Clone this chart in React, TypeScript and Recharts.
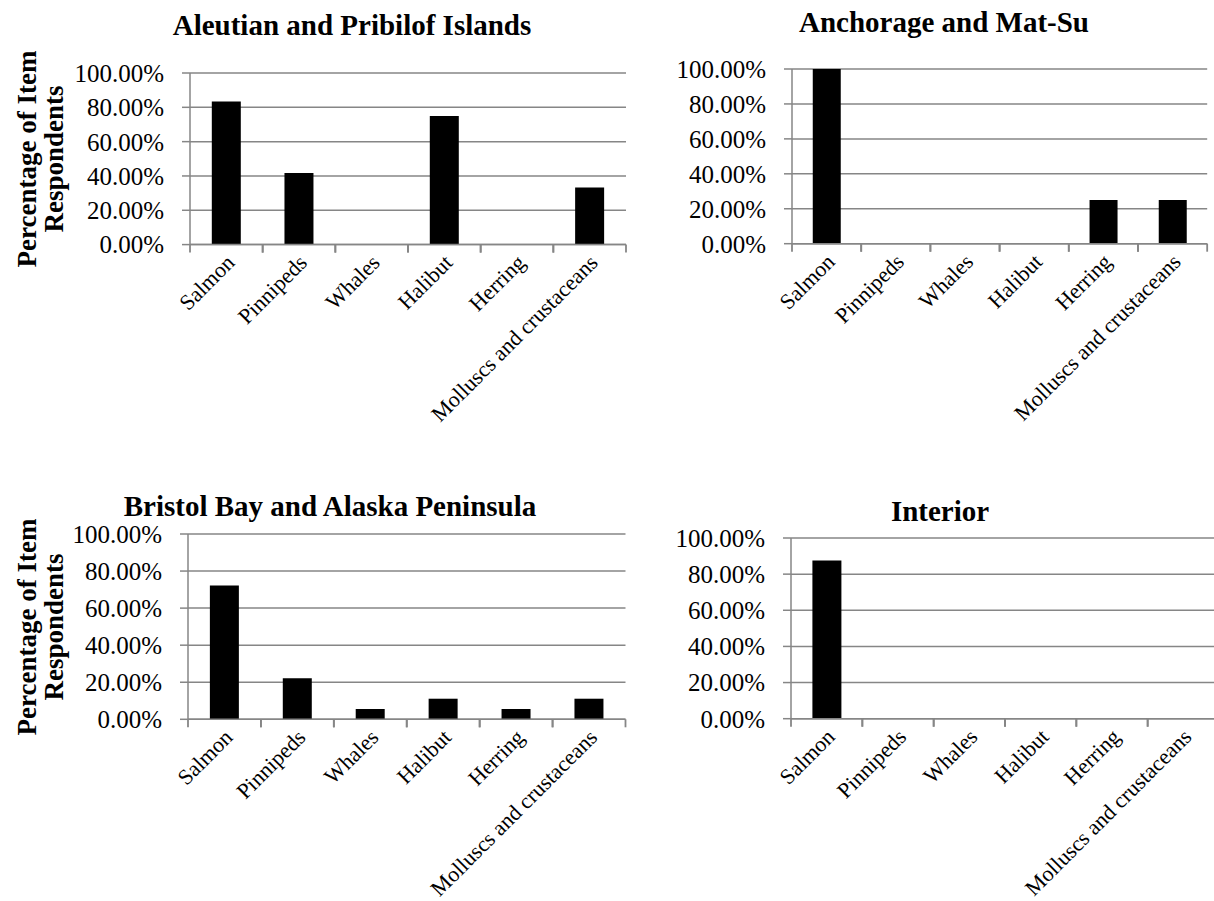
import React from 'react';
import { BarChart, Bar, XAxis, YAxis, CartesianGrid } from 'recharts';

const categories = ['Salmon', 'Pinnipeds', 'Whales', 'Halibut', 'Herring', 'Molluscs and crustaceans'];
const aleutianValues = [0.8333, 0.4167, 0, 0.75, 0, 0.3333];
const anchorageValues = [1, 0, 0, 0, 0.25, 0.25];
const bristolValues = [0.7222, 0.2222, 0.0556, 0.1111, 0.0556, 0.1111];
const interiorValues = [0.875, 0, 0, 0, 0, 0];
const yTicks = [0, 0.2, 0.4, 0.6, 0.8, 1];

const FONT = '"Liberation Serif", "Times New Roman", serif';
const GRID = '#868686';

const toRows = (values: number[]) => categories.map((name, i) => ({ name, value: values[i] }));

// Excel style: tick marks sit between categories, labels rotated 45deg
const CategoryTick = (props: any) => {
  const { x, y, payload, plotW } = props;
  const half = payload && payload.offset > 0 ? payload.offset : plotW / categories.length / 2;
  const ax = x + 4;
  const ay = y + 14;
  return (
    <g>
      <line x1={x - half} y1={y} x2={x - half} y2={y + 8} stroke={GRID} strokeWidth={1.8} />
      <line x1={x + half} y1={y} x2={x + half} y2={y + 8} stroke={GRID} strokeWidth={1.8} />
      <text
        x={ax}
        y={ay}
        transform={`rotate(-45 ${ax} ${ay})`}
        textAnchor="end"
        dy="0.35em"
        fontFamily={FONT}
        fontSize={22}
        fill="#000"
      >
        {payload.value}
      </text>
    </g>
  );
};

interface PanelProps {
  values: number[];
  title: string;
  titleX: number;
  titleTop: number;
  plot: { x: number; y: number; w: number; h: number };
  yTitle?: boolean;
}

const Y_AXIS_W = 120;
const TOP_PAD = 20;
const X_AXIS_H = 200;

const Panel: React.FC<PanelProps> = ({ values, title, titleX, titleTop, plot, yTitle }) => {
  const width = Y_AXIS_W + plot.w + 4;
  const height = TOP_PAD + plot.h + X_AXIS_H;
  return (
    <>
      <div
        style={{
          position: 'absolute',
          left: titleX - 300,
          top: titleTop,
          width: 600,
          textAlign: 'center',
          fontFamily: FONT,
          fontWeight: 'bold',
          fontSize: 29,
          lineHeight: '29px',
          whiteSpace: 'nowrap',
        }}
      >
        {title}
      </div>
      {yTitle && (
        <div
          style={{
            position: 'absolute',
            left: 41 - 150,
            top: plot.y + plot.h / 2 - 27,
            width: 300,
            height: 54,
            textAlign: 'center',
            fontFamily: FONT,
            fontWeight: 'bold',
            fontSize: 27,
            lineHeight: '27px',
            transform: 'rotate(-90deg)',
            whiteSpace: 'nowrap',
          }}
        >
          Percentage of Item
          <br />
          Respondents
        </div>
      )}
      <div style={{ position: 'absolute', left: plot.x - Y_AXIS_W, top: plot.y - TOP_PAD }}>
        <BarChart
          width={width}
          height={height}
          data={toRows(values)}
          margin={{ top: TOP_PAD, right: 4, bottom: 0, left: 0 }}
          barCategoryGap="30%"
        >
          <CartesianGrid vertical={false} stroke={GRID} strokeWidth={1.5} />
          <XAxis
            dataKey="name"
            interval={0}
            tick={<CategoryTick plotW={plot.w} />}
            tickLine={false}
            tickSize={0}
            tickMargin={0}
            axisLine={{ stroke: GRID, strokeWidth: 1.5 }}
            height={X_AXIS_H}
          />
          <YAxis
            domain={[0, 1]}
            ticks={yTicks}
            interval={0}
            tickFormatter={(v: number) => `${(v * 100).toFixed(2)}%`}
            width={Y_AXIS_W}
            axisLine={{ stroke: GRID, strokeWidth: 1.5 }}
            tickLine={{ stroke: GRID, strokeWidth: 1.5 }}
            tickSize={8}
            tickMargin={18}
            tick={{ fontFamily: FONT, fontSize: 25, fill: '#000' }}
          />
          <Bar dataKey="value" fill="#000" isAnimationActive={false} />
        </BarChart>
      </div>
    </>
  );
};

export default function App() {
  return (
    <div
      style={{
        position: 'absolute',
        left: 0,
        top: 0,
        width: 1214,
        height: 901,
        overflow: 'hidden',
        background: '#fff',
      }}
    >
      <Panel
        values={aleutianValues}
        title="Aleutian and Pribilof Islands"
        titleX={352}
        titleTop={11}
        plot={{ x: 190, y: 72.7, w: 436, h: 171.6 }}
        yTitle
      />
      <Panel
        values={anchorageValues}
        title="Anchorage and Mat-Su"
        titleX={944}
        titleTop={8}
        plot={{ x: 791.5, y: 69.3, w: 415.2, h: 174.7 }}
      />
      <Panel
        values={bristolValues}
        title="Bristol Bay and Alaska Peninsula"
        titleX={330}
        titleTop={492}
        plot={{ x: 188, y: 534, w: 437.5, h: 185.3 }}
        yTitle
      />
      <Panel
        values={interiorValues}
        title="Interior"
        titleX={940}
        titleTop={497}
        plot={{ x: 791, y: 538.3, w: 428, h: 180.7 }}
      />
    </div>
  );
}
